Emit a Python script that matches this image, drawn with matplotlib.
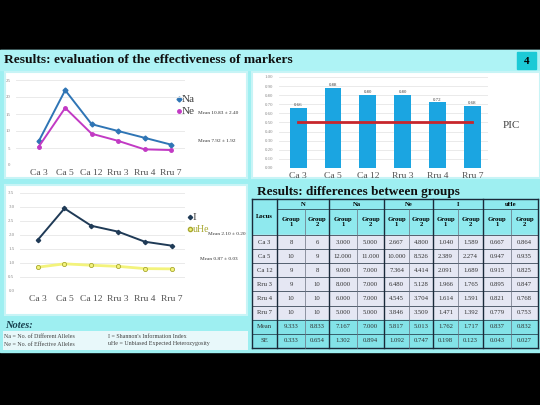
import matplotlib.pyplot as plt
from matplotlib.patches import Rectangle

plt.rcParams['font.family'] = ['Liberation Serif', 'DejaVu Serif']

# chart data
loci = ['Ca 3', 'Ca 5', 'Ca 12', 'Rru 3', 'Rru 4', 'Rru 7']
na = [7, 22, 12, 10, 8, 6]
ne = [5.4, 16.8, 9.2, 7.1, 4.6, 4.4]
pic = [0.66, 0.88, 0.80, 0.80, 0.72, 0.68]
pic_cut = 0.50
shannon = [1.82, 2.95, 2.33, 2.12, 1.76, 1.62]
uhe = [0.85, 0.97, 0.92, 0.88, 0.80, 0.79]

# table data
rows = ['Ca 3', 'Ca 5', 'Ca 12', 'Rru 3', 'Rru 4', 'Rru 7', 'Mean', 'SE']
n_g1 = [8, 10, 9, 9, 10, 10, 9.333, 0.333]
n_g2 = [6, 9, 8, 10, 10, 10, 8.833, 0.654]
na_g1 = [3.000, 12.000, 9.000, 8.000, 6.000, 5.000, 7.167, 1.302]
na_g2 = [5.000, 11.000, 7.000, 7.000, 7.000, 5.000, 7.000, 0.894]
ne_g1 = [2.667, 10.000, 7.364, 6.480, 4.545, 3.846, 5.817, 1.092]
ne_g2 = [4.800, 8.526, 4.414, 5.128, 3.704, 3.509, 5.013, 0.747]
i_g1 = [1.040, 2.389, 2.091, 1.966, 1.614, 1.471, 1.762, 0.198]
i_g2 = [1.589, 2.274, 1.689, 1.765, 1.591, 1.392, 1.717, 0.123]
uhe_g1 = [0.667, 0.947, 0.915, 0.895, 0.821, 0.779, 0.837, 0.043]
uhe_g2 = [0.864, 0.935, 0.825, 0.847, 0.768, 0.753, 0.832, 0.027]
groups = ['N', 'Na', 'Ne', 'I', 'uHe']

W, H = 540, 405
fig = plt.figure(figsize=(5.4, 4.05), dpi=100)
fig.patch.set_facecolor('black')


def rect(x0, y0, x1, y1):
    return [x0 / W, 1 - y1 / H, (x1 - x0) / W, (y1 - y0) / H]


bg = fig.add_axes([0, 0, 1, 1])
bg.set_xlim(0, W)
bg.set_ylim(H, 0)
bg.axis('off')

cyan = '#9eeff1'
bg.add_patch(Rectangle((0, 50), W, 302, color=cyan, zorder=0))
bg.add_patch(Rectangle((0, 50), W, 20, color='#aef3f5', zorder=0.5))
bg.add_patch(Rectangle((517, 52), 19, 17, color='#1ccad6', zorder=1))
bg.text(526.5, 61, '4', ha='center', va='center', fontsize=8, weight='bold')
bg.text(4, 60, 'Results: evaluation of the effectiveness of markers',
        fontsize=9.7, weight='bold', va='center', color='#101010')

# white panels
for x0, y0, x1, y1 in [(5, 72, 247, 178), (252, 72, 540, 178), (5, 185, 247, 315)]:
    bg.add_patch(Rectangle((x0, y0), x1 - x0, y1 - y0, facecolor='white',
                           edgecolor='#c8f4f6', lw=1.5, zorder=1))

gridc = '#e6e6e6'
tickc = '#505050'


def style(ax):
    for s in ax.spines.values():
        s.set_visible(False)
    ax.set_facecolor('none')
    ax.grid(axis='y', color=gridc, lw=0.6)
    ax.set_axisbelow(True)
    ax.tick_params(length=0)
    ax.tick_params(axis='y', labelsize=3.5, labelcolor='#888888', pad=4)
    ax.tick_params(axis='x', labelsize=6.8, labelcolor=tickc, pad=3)


x = list(range(len(loci)))

# top-left: Na / Ne
ax1 = fig.add_axes(rect(16, 80, 185, 165))
ax1.plot(x, na, color='#2f75b5', lw=1.4, marker='D', ms=2.5)
ax1.plot(x, ne, color='#c23ac4', lw=1.4, marker='o', ms=2.5)
ax1.set_ylim(0, 25)
ax1.set_yticks(range(0, 26, 5))
ax1.set_xlim(-0.86, 5.53)
ax1.set_xticks(x, loci)
style(ax1)

bg.plot(178.5, 99, marker='D', color='#2f75b5', ms=2.5, zorder=3)
bg.text(182, 99, 'Na', fontsize=8, va='center', color='#404040', zorder=3)
bg.plot(178.5, 111, marker='o', color='#c23ac4', ms=2.5, zorder=3)
bg.text(182, 111, 'Ne', fontsize=8, va='center', color='#404040', zorder=3)
bg.text(198, 113, 'Mean 10.83 ± 2.40', fontsize=3.8, va='center', color='#303030', zorder=3)
bg.text(198, 141, 'Mean 7.92 ± 1.92', fontsize=3.8, va='center', color='#303030', zorder=3)

# top-right: PIC bars
ax2 = fig.add_axes(rect(279, 77, 488, 168))
ax2.bar(x, pic, width=0.48, color='#1ba5e1')
for xi, v in zip(x, pic):
    ax2.text(xi, v + 0.01, '%.2f' % v, ha='center', va='bottom', fontsize=3.5, color='#404040')
ax2.plot([x[0], x[-1]], [pic_cut, pic_cut], color='#c7262c', lw=2)
ax2.set_ylim(0, 1)
ax2.set_yticks([i / 10 for i in range(11)], ['%.2f' % (i / 10) for i in range(11)])
ax2.set_xlim(-0.55, 5.45)
ax2.set_xticks(x, loci)
style(ax2)
bg.text(503, 125, 'PIC', fontsize=8, va='center', color='#404040', zorder=3)

# bottom-left: I / uHe
ax3 = fig.add_axes(rect(20, 193, 185, 291))
ax3.plot(x, shannon, color='#1f3a56', lw=1.4, marker='D', ms=2.2)
ax3.plot(x, uhe, color='#f3f37c', lw=2, marker='o', ms=3,
         mfc='#f3f37c', mec='#a8a830', mew=0.6)
ax3.set_ylim(0, 3.5)
ax3.set_yticks([i / 2 for i in range(8)], ['%.1f' % (i / 2) for i in range(8)])
ax3.set_xlim(-0.66, 5.5)
ax3.set_xticks(x, loci)
style(ax3)

bg.plot(189.5, 217, marker='D', color='#1f3a56', ms=2.2, zorder=3)
bg.text(193, 217, 'I', fontsize=8, va='center', color='#404040', zorder=3)
bg.plot(189.5, 229, marker='o', mfc='#f3f37c', mec='#a8a830', ms=3, zorder=3)
bg.text(193, 229, 'uHe', fontsize=7, va='center', color='#a8a830', zorder=3)
bg.text(208, 234, 'Mean 2.10 ± 0.20', fontsize=3.8, va='center', color='#303030', zorder=3)
bg.text(200, 259, 'Mean 0.87 ± 0.03', fontsize=3.8, va='center', color='#303030', zorder=3)

# notes
bg.text(5, 325, 'Notes:', fontsize=7.5, weight='bold', style='italic', color='#17404f', va='center')
bg.add_patch(Rectangle((3, 331), 245, 19, facecolor='#e8f8fa', edgecolor='none', zorder=1))
for (tx, ty, s) in [(4, 336, 'Na = No. of Different Alleles'),
                    (4, 344, 'Ne = No. of Effective Alleles'),
                    (108, 336, "I = Shannon's Information Index"),
                    (108, 344, 'uHe = Unbiased Expected Heterozygosity')]:
    bg.text(tx, ty, s, fontsize=4.3, va='center', color='#404040', zorder=2)

# table
bg.text(257, 192, 'Results: differences between groups', fontsize=9.5,
        weight='bold', va='center', color='#101010')
col_x = [252, 277, 305, 329, 357, 384, 409, 433, 458, 483, 511, 538]
row_y = [199, 209, 235]
for k in range(len(rows)):
    row_y.append(235 + 14.1 * (k + 1))
cols = [n_g1, n_g2, na_g1, na_g2, ne_g1, ne_g2, i_g1, i_g2, uhe_g1, uhe_g2]
head_c = '#8fe9ee'
body_c = '#e5e7f3'
stat_c = '#83e3e8'
bg.add_patch(Rectangle((col_x[0], row_y[0]), col_x[-1] - col_x[0], row_y[2] - row_y[0],
                       color=head_c, zorder=1))
for k, name in enumerate(rows):
    y0, y1 = row_y[k + 2], row_y[k + 3]
    fc = stat_c if name in ('Mean', 'SE') else body_c
    bg.add_patch(Rectangle((col_x[0], y0), col_x[-1] - col_x[0], y1 - y0, color=fc, zorder=1))
    yc = (y0 + y1) / 2
    bg.text((col_x[0] + col_x[1]) / 2, yc, name, ha='center', va='center', fontsize=4.8,
            color='#303030', zorder=3)
    for j, c in enumerate(cols):
        v = c[k]
        s = '%d' % v if (j < 2 and k < 6) else '%.3f' % v
        bg.text((col_x[j + 1] + col_x[j + 2]) / 2, yc, s, ha='center', va='center',
                fontsize=4.8, color='#303030', zorder=3)

bg.text((col_x[0] + col_x[1]) / 2, (row_y[0] + row_y[2]) / 2, 'Locus', ha='center',
        va='center', fontsize=4.8, weight='bold', zorder=3)
for g, name in enumerate(groups):
    xa, xb = col_x[1 + 2 * g], col_x[3 + 2 * g]
    bg.text((xa + xb) / 2, (row_y[0] + row_y[1]) / 2, name, ha='center', va='center',
            fontsize=4.8, weight='bold', zorder=3)
    for j in range(2):
        xm = (col_x[1 + 2 * g + j] + col_x[2 + 2 * g + j]) / 2
        bg.text(xm, (row_y[1] + row_y[2]) / 2, 'Group\n%d' % (j + 1), ha='center',
                va='center', fontsize=4.8, weight='bold', linespacing=1.1, zorder=3)

# grid lines
for k, y in enumerate(row_y):
    lw = 1.0 if k in (0, len(row_y) - 1) else 0.5
    xs = col_x[1] if k == 1 else col_x[0]
    bg.plot([xs, col_x[-1]], [y, y], color='#1a2a3a', lw=lw, zorder=4)
for j, xv in enumerate(col_x):
    thick = j in (0, 1, 3, 5, 7, 9, 11)
    ys = row_y[0] if thick else row_y[1]
    bg.plot([xv, xv], [ys, row_y[-1]], color='#1a2a3a' if thick else '#6a7080',
            lw=1.0 if thick else 0.5, zorder=4)

fig.savefig('out.png', dpi=100, facecolor=fig.get_facecolor())
